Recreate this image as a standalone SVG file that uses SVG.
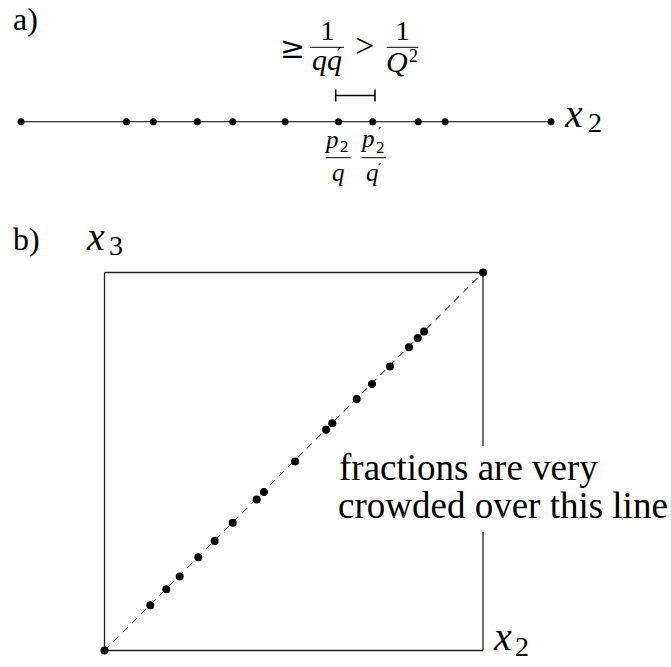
<svg xmlns="http://www.w3.org/2000/svg" width="671" height="667" viewBox="0 0 671 667">
<defs>
<style>
.ln{stroke:#000;stroke-width:1.1;fill:none}
.box{stroke:#222;stroke-width:1.3;fill:none}
.dot{fill:#000}
.tick{stroke:#000;stroke-width:1.5}
.bar{stroke:#000;stroke-width:1}
</style>
</defs>
<rect width="671" height="667" fill="#fff"/>
<g id="label-a"><text style="font-family:'Liberation Serif'" x="13" y="30" font-size="32">a)</text></g>
<g id="label-b"><text style="font-family:'Liberation Serif'" x="13" y="250" font-size="32">b)</text></g>

<g id="connectors">
  <line class="ln" x1="21" y1="121.7" x2="551" y2="121.7"/>
  <g id="interval">
    <line class="tick" x1="335.7" y1="95.5" x2="375" y2="95.5"/>
    <line class="tick" x1="335.7" y1="89.5" x2="335.7" y2="101.5"/>
    <line class="tick" x1="375" y1="89.5" x2="375" y2="101.5"/>
  </g>
  <g id="square">
    <line class="box" x1="104.5" y1="272.5" x2="483" y2="272.5"/>
    <line class="box" x1="104.5" y1="272.5" x2="104.5" y2="650.5"/>
    <line class="box" x1="104.5" y1="650.5" x2="483" y2="650.5"/>
    <line class="box" x1="483" y1="272.5" x2="483" y2="446"/>
    <line class="box" x1="483" y1="532" x2="483" y2="650.5"/>
  </g>
  <line id="diagonal" stroke="#000" stroke-width="1" stroke-dasharray="7 6" x1="104.5" y1="650.5" x2="483" y2="272.5"/>
</g>

<g id="dots-a">
  <circle class="dot" cx="21" cy="121.7" r="3.5"/>
  <circle class="dot" cx="126.5" cy="121.7" r="3.5"/>
  <circle class="dot" cx="153.3" cy="121.7" r="3.5"/>
  <circle class="dot" cx="197.3" cy="121.7" r="3.5"/>
  <circle class="dot" cx="232.7" cy="121.7" r="3.5"/>
  <circle class="dot" cx="285" cy="121.7" r="3.5"/>
  <circle class="dot" cx="338.5" cy="121.7" r="3.5"/>
  <circle class="dot" cx="372.8" cy="121.7" r="3.5"/>
  <circle class="dot" cx="418.3" cy="121.7" r="3.5"/>
  <circle class="dot" cx="445" cy="121.7" r="3.5"/>
  <circle class="dot" cx="551" cy="121.7" r="3.5"/>
</g>

<g id="dots-b">
  <circle class="dot" cx="483" cy="272.5" r="4"/>
  <circle class="dot" cx="424" cy="331.5" r="4"/>
  <circle class="dot" cx="417.7" cy="338" r="4"/>
  <circle class="dot" cx="409" cy="347.3" r="4"/>
  <circle class="dot" cx="390" cy="366.5" r="4"/>
  <circle class="dot" cx="372" cy="384" r="4"/>
  <circle class="dot" cx="356.7" cy="399" r="4"/>
  <circle class="dot" cx="332.3" cy="423.3" r="4"/>
  <circle class="dot" cx="326" cy="429.7" r="4"/>
  <circle class="dot" cx="295" cy="461.5" r="4"/>
  <circle class="dot" cx="264" cy="492" r="4"/>
  <circle class="dot" cx="256.7" cy="499.5" r="4"/>
  <circle class="dot" cx="232.7" cy="522.8" r="4"/>
  <circle class="dot" cx="214.7" cy="541" r="4"/>
  <circle class="dot" cx="198.3" cy="557.3" r="4"/>
  <circle class="dot" cx="179.7" cy="576.5" r="4"/>
  <circle class="dot" cx="166.3" cy="589.3" r="4"/>
  <circle class="dot" cx="150.3" cy="605.3" r="4"/>
  <circle class="dot" cx="104.5" cy="650.5" r="4"/>
</g>

<g id="axis-x2-a">
  <text style="font-family:'Liberation Serif';font-style:italic" x="565" y="127" font-size="40">x</text>
  <text style="font-family:'Liberation Serif'" x="588" y="132" font-size="28">2</text>
</g>

<g id="gap-label">
  <text style="font-family:'DejaVu Serif'" x="280" y="58" font-size="30">&#8805;</text>
  <line class="bar" x1="310" y1="47.3" x2="344" y2="47.3"/>
  <text style="font-family:'Liberation Serif'" x="327.5" y="40" font-size="28" text-anchor="middle">1</text>
  <text style="font-family:'Liberation Serif';font-style:italic" x="312" y="70" font-size="30">qq</text>
  <text style="font-family:'DejaVu Serif'" x="337" y="62" font-size="20">&#8242;</text>
  <text style="font-family:'Liberation Serif'" x="355" y="57" font-size="34">&gt;</text>
  <line class="bar" x1="386.7" y1="47.3" x2="418.3" y2="47.3"/>
  <text style="font-family:'Liberation Serif'" x="402.5" y="40" font-size="28" text-anchor="middle">1</text>
  <text style="font-family:'Liberation Serif';font-style:italic" x="386" y="72" font-size="30">Q</text>
  <text style="font-family:'Liberation Serif'" x="409" y="62" font-size="18">2</text>
</g>

<g id="frac-p2q">
  <text style="font-family:'Liberation Serif';font-style:italic" x="326" y="148" font-size="25">p</text>
  <text style="font-family:'Liberation Serif'" x="340" y="152" font-size="17">2</text>
  <line class="bar" x1="326" y1="157.7" x2="350.7" y2="157.7"/>
  <text style="font-family:'Liberation Serif';font-style:italic" x="338.3" y="181" font-size="25" text-anchor="middle">q</text>
</g>

<g id="frac-p2q-prime">
  <text style="font-family:'Liberation Serif';font-style:italic" x="362" y="147" font-size="25">p</text>
  <text style="font-family:'DejaVu Serif'" x="378" y="138" font-size="15">&#8242;</text>
  <text style="font-family:'Liberation Serif'" x="376" y="153" font-size="17">2</text>
  <line class="bar" x1="361.7" y1="157.7" x2="386" y2="157.7"/>
  <text style="font-family:'Liberation Serif';font-style:italic" x="366" y="181" font-size="25">q</text>
  <text style="font-family:'DejaVu Serif'" x="378" y="174" font-size="15">&#8242;</text>
</g>

<g id="axis-x3">
  <text style="font-family:'Liberation Serif';font-style:italic" x="87" y="250" font-size="40">x</text>
  <text style="font-family:'Liberation Serif'" x="109" y="255" font-size="28">3</text>
</g>

<g id="axis-x2-b">
  <text style="font-family:'Liberation Serif';font-style:italic" x="494" y="650" font-size="40">x</text>
  <text style="font-family:'Liberation Serif'" x="515" y="656" font-size="28">2</text>
</g>

<g id="note">
  <text style="font-family:'Liberation Serif'" x="339" y="480" font-size="37">fractions are very</text>
  <text style="font-family:'Liberation Serif'" x="338" y="518" font-size="37">crowded over this line</text>
</g>
</svg>
